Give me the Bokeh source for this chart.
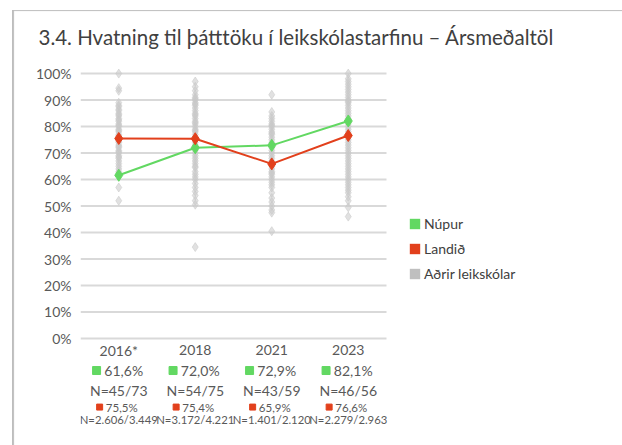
import numpy as np
from bokeh.plotting import figure
from bokeh.models import Range1d, FixedTicker, PrintfTickFormatter, Legend, LegendItem
from bokeh.core.properties import value
from bokeh.embed import file_html
from bokeh.resources import INLINE

# ---------------- data ----------------
years = ["2016*", "2018", "2021", "2023"]
nupur = [61.6, 72.0, 72.9, 82.1]
landid = [75.5, 75.4, 65.9, 76.6]
nupur_n = ["N=45/73", "N=54/75", "N=43/59", "N=46/56"]
landid_n = ["N=2.606/3.449", "N=3.172/4.221", "N=1.401/2.120", "N=2.279/2.963"]

others_2016 = [100, 94.5, 93.5, 89, 88, 87.5, 86.5, 86, 85, 84.5, 84, 83, 82.5, 82,
               81, 80.5, 80, 79, 78.5, 78, 77, 76.5, 76, 75, 74.5, 74, 73, 72.5, 72,
               71, 70.5, 70, 69, 68.5, 68, 67, 66, 65, 64, 63, 62.5, 57, 52]
others_2018 = [97, 95, 93.5, 92, 91, 90.5, 90, 89, 88.5, 88, 87, 86, 85, 84.5, 84,
               83, 82, 81.5, 81, 80, 79, 78.5, 78, 77, 76, 75, 74, 73, 72.5, 71, 70,
               69, 68, 67, 66, 65, 64.5, 63, 62, 61, 60, 58.5, 57, 55.5, 54, 52, 50.5,
               34.5]
others_2021 = [92, 85.5, 84, 83, 82, 81, 80.5, 80, 79, 78, 77.5, 77, 76, 75, 74, 73,
               72, 71, 70, 69, 68, 67, 66, 65, 64, 63, 62.5, 62, 61, 60, 59, 58, 57,
               55, 53, 51.5, 50, 48.5, 47.5, 40.5]
others_2023 = [100, 98, 97, 96, 95, 94, 93, 92, 91, 90, 89.5, 89, 88, 87, 86, 85, 84,
               83, 82.5, 81, 80, 79, 78, 77, 76, 75, 74, 73, 72, 71, 70, 69, 68, 67,
               66, 65, 64, 63, 62, 61, 60, 59, 58, 57, 56, 55, 53.5, 52, 49.5, 46]
others = [others_2016, others_2018, others_2021, others_2023]

y_ticks = [0, 10, 20, 30, 40, 50, 60, 70, 80, 90, 100]
legend_labels = ["Núpur", "Landið", "Aðrir leikskólar"]

# ---------------- styles ----------------
GREEN = "#62d862"
RED = "#e2401c"
GRAY = "#c9c9c9"
LEG_GRAY = "#bfbfbf"
TXT = "#595959"
FONT = "Lato"

idx = list(range(len(years)))
n = len(years)
UNIT = 76.5                     # pixels per category
FRAME_W = 530                   # frame spans the legend area too
x_end = -0.5 + FRAME_W / UNIT

p = figure(width=622, height=445, output_backend="svg", toolbar_location=None,
           x_range=Range1d(-0.5, x_end), y_range=Range1d(-40.4, 103.8),
           min_border_left=80, min_border_right=622 - 80 - FRAME_W,
           min_border_top=63, min_border_bottom=0)
p.border_fill_alpha = 0
p.styles = {"background-color": "#ffffff",
            "box-shadow": "inset 12px 10px 0 0 #ffffff, inset 14px 11px 1px 0 #bdbdbd"}
p.outline_line_color = None
p.xaxis.visible = False
p.xgrid.visible = False
p.ygrid.visible = False

p.yaxis.ticker = FixedTicker(ticks=y_ticks)
p.yaxis.formatter = PrintfTickFormatter(format="%d%%")
p.yaxis.axis_line_color = None
p.yaxis.major_tick_line_color = None
p.yaxis.minor_tick_line_color = None
p.yaxis.major_label_text_font = FONT
p.yaxis.major_label_text_font_size = "14px"
p.yaxis.major_label_text_color = TXT
p.yaxis.major_label_standoff = 3

# horizontal grid lines over the category area only
p.segment(x0=[-0.5] * len(y_ticks), x1=[n - 0.5] * len(y_ticks), y0=y_ticks, y1=y_ticks,
          line_color="#d9d9d9", line_width=2)

p.title.text = "3.4. Hvatning til þátttöku í leikskólastarfinu – Ársmeðaltöl"
p.title.text_font = FONT
p.title.text_font_size = "20.5px"
p.title.text_font_style = "normal"
p.title.text_color = "#404040"
p.title.align = "left"
p.title.offset = -42
try:
    p.title.standoff = 29
except AttributeError:
    pass

# other kindergartens
for i, vals in zip(idx, others):
    p.scatter([i] * len(vals), vals, marker="diamond", size=9,
              fill_color=GRAY, line_color=GRAY, fill_alpha=0.55, line_alpha=0.55)

# series
p.line(idx, nupur, line_color=GREEN, line_width=2)
p.scatter(idx, nupur, marker="diamond", size=12, color=GREEN)
p.line(idx, landid, line_color=RED, line_width=2)
p.scatter(idx, landid, marker="diamond", size=12, color=RED)

# labels below the axis
def txt(x, y, t, size, color=TXT, dx=0):
    p.text(x=x, y=[y] * len(x), text=t, text_align="center", text_baseline="middle",
           text_font=value(FONT), text_font_size=size, text_color=color, x_offset=dx)

txt(idx, -4.5, years, "14px")
fmt = lambda v: f"{v:.1f}".replace(".", ",") + "%"
txt(idx, -12.1, [fmt(v) for v in nupur], "14px", dx=5)
p.scatter([i - 0.29 for i in idx], [-12.1] * n, marker="square", size=8, color=GREEN)
txt(idx, -19.6, nupur_n, "14px")
txt(idx, -25.9, [fmt(v) for v in landid], "11.5px", dx=3)
p.scatter([i - 0.25 for i in idx], [-25.9] * n, marker="square", size=6, color=RED)
txt(idx, -30.7, landid_n, "11.3px")

# legend (glyph-only renderers with a single NaN entry: nothing drawn in the plot)
leg_renderers = []
for c in [GREEN, RED, LEG_GRAY]:
    leg_renderers.append(p.quad(left=np.array([np.nan]), right=np.array([np.nan]),
                                top=np.array([np.nan]), bottom=np.array([np.nan]),
                                fill_color=c, line_color=None))
legend = Legend(items=[LegendItem(label=lab, renderers=[r])
                       for lab, r in zip(legend_labels, leg_renderers)],
                location=(328, 162), orientation="vertical",
                glyph_width=13, glyph_height=13, label_height=20, spacing=5,
                padding=0, margin=0, label_standoff=3,
                label_text_font=FONT, label_text_font_size="14px",
                label_text_color="#404040", border_line_color=None,
                background_fill_alpha=0)
p.add_layout(legend, "center")

open("out.html", "w").write(file_html(p, INLINE))
